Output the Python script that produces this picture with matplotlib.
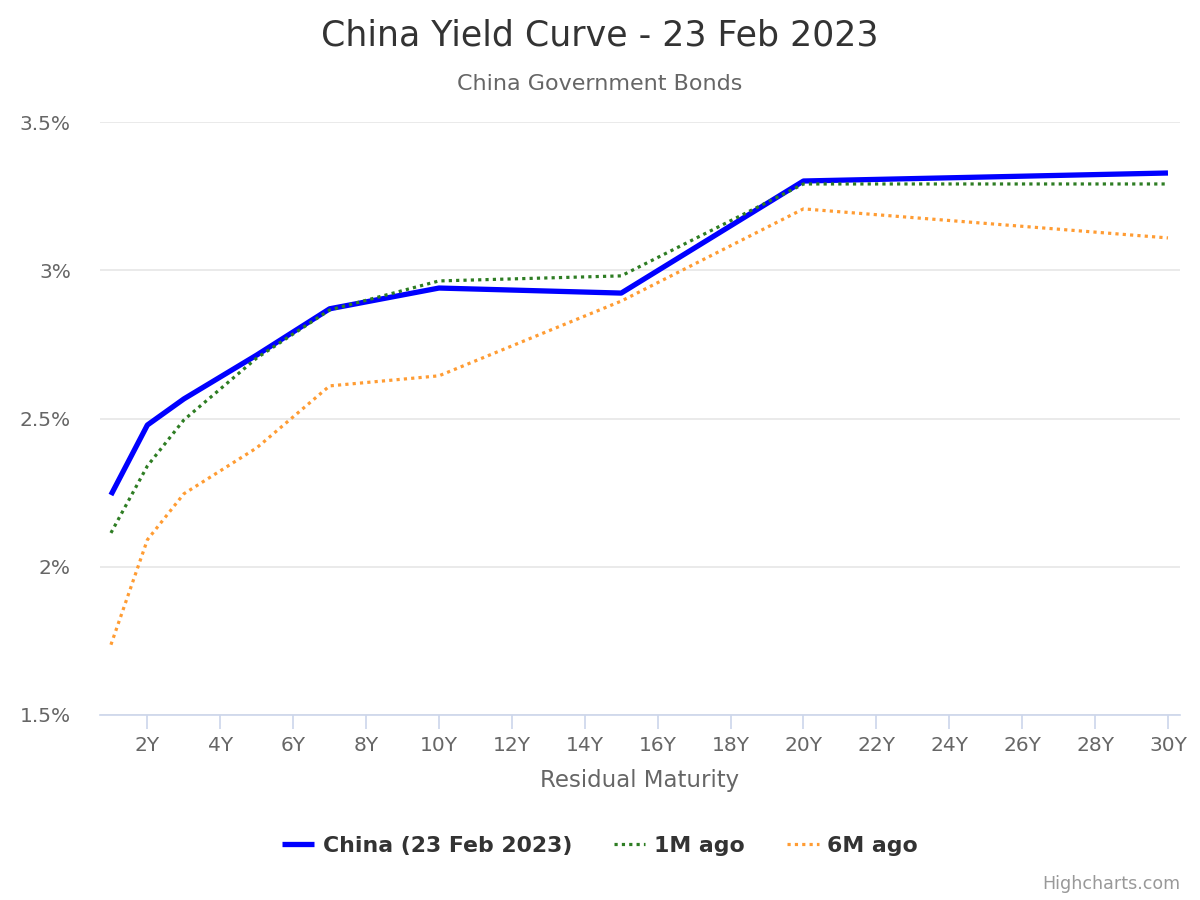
import matplotlib.pyplot as plt
from matplotlib.ticker import FuncFormatter

# maturities in years
maturity = [1, 2, 3, 5, 7, 10, 15, 20, 30]

china_now = [2.242, 2.478, 2.566, 2.714, 2.870, 2.940, 2.923, 3.301, 3.328]
one_m_ago = [2.114, 2.340, 2.495, 2.704, 2.866, 2.964, 2.981, 3.291, 3.291]
six_m_ago = [1.737, 2.091, 2.246, 2.401, 2.610, 2.644, 2.896, 3.207, 3.109]

x_ticks = list(range(2, 31, 2))
x_labels = [f"{t}Y" for t in x_ticks]
y_ticks = [1.5, 2.0, 2.5, 3.0, 3.5]

plt.rcParams["font.family"] = "DejaVu Sans"

fig = plt.figure(figsize=(12, 9), dpi=100)
ax = fig.add_axes([100 / 1200, 1 - 715 / 900, 1080 / 1200, (715 - 122) / 900])

ax.plot(maturity, china_now, color="#0000ff", lw=3.8, solid_capstyle="butt",
        label="China (23 Feb 2023)", zorder=3)
ax.plot(maturity, one_m_ago, color="#2e7d23", lw=2.3, linestyle=(0, (1, 1.3)),
        label="1M ago", zorder=4)
ax.plot(maturity, six_m_ago, color="#ff9c33", lw=2.3, linestyle=(0, (1, 1.3)),
        label="6M ago", zorder=2)

ax.set_xlim(0.7, 30.33)
ax.set_ylim(1.5, 3.5)
ax.set_xticks(x_ticks)
ax.set_xticklabels(x_labels)
ax.set_yticks(y_ticks)
ax.yaxis.set_major_formatter(FuncFormatter(lambda v, p: f"{v:g}%"))

ax.grid(axis="y", color="#e6e6e6", lw=1.2)
ax.set_axisbelow(True)
for s in ["top", "right", "left"]:
    ax.spines[s].set_visible(False)
ax.spines["bottom"].set_color("#ccd6eb")
ax.spines["bottom"].set_linewidth(1.2)
ax.tick_params(axis="x", colors="#666666", labelsize=14.5, length=10,
               width=1.2, color="#ccd6eb", pad=5)
ax.tick_params(axis="y", colors="#666666", labelsize=14.5, length=0, pad=21)

ax.set_xlabel("Residual Maturity", fontsize=16.5, color="#666666", labelpad=10)

fig.text(0.5, 1 - 36 / 900, "China Yield Curve - 23 Feb 2023", ha="center",
         va="center", fontsize=25, color="#333333")
fig.text(0.5, 1 - 84 / 900, "China Government Bonds", ha="center",
         va="center", fontsize=16, color="#666666")

leg = fig.legend(loc="center", bbox_to_anchor=(0.5, 1 - 846 / 900), ncol=3,
                 frameon=False, handlelength=1.45, handletextpad=0.4,
                 columnspacing=1.9, prop={"weight": "bold", "size": 15.8})
for t in leg.get_texts():
    t.set_color("#333333")

fig.text(1 - 20 / 1200, 1 - 884 / 900, "Highcharts.com", ha="right",
         va="center", fontsize=12.6, color="#999999")

fig.savefig("out.png", dpi=100)
